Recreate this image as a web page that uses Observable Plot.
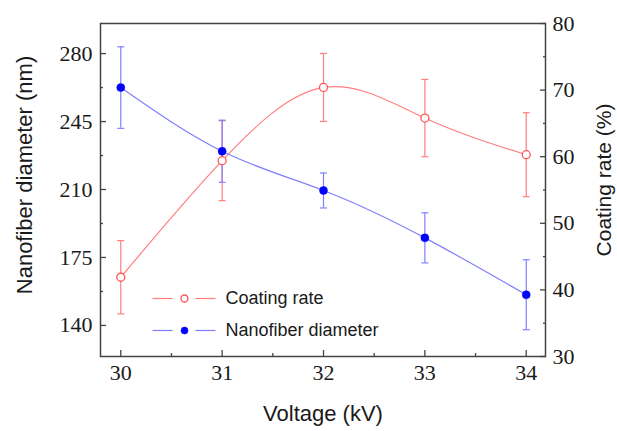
<!DOCTYPE html>
<html><head><meta charset="utf-8">
<script src="https://cdn.jsdelivr.net/npm/d3@7"></script>
<script src="https://cdn.jsdelivr.net/npm/@observablehq/plot@0.6"></script>
<style>body{margin:0;background:#fff}</style>
</head><body><div id="chart"></div>
<script>
// ---- data ----
const voltage = [30, 31, 32, 33, 34];
const diameter = [262.5, 229.7, 209.5, 185.1, 155.8];
const diameterErr = [21, 16, 9, 12.9, 18];
const coating = [41.9, 59.4, 70.4, 65.8, 60.3];
const coatingErr = [5.5, 6, 5.1, 5.8, 6.3];
const xTicks = [30, 31, 32, 33, 34];
const xMinor = [30.5, 31.5, 32.5, 33.5];
const leftTicks = [140, 175, 210, 245, 280];
const leftMinor = [157.5, 192.5, 227.5, 262.5];
const rightTicks = [30, 40, 50, 60, 70, 80];
const rightMinor = [35, 45, 55, 65, 75];
const legendLabels = ["Coating rate", "Nanofiber diameter"];

const leftDomain = [124, 295.5];
const rightDomain = [30, 80];
const k = (leftDomain[1] - leftDomain[0]) / (rightDomain[1] - rightDomain[0]);
const toLeft = c => leftDomain[0] + (c - rightDomain[0]) * k;
const fromLeft = v => rightDomain[0] + (v - leftDomain[0]) / k;

const dia = voltage.map((v, i) => ({v, y: diameter[i], lo: diameter[i] - diameterErr[i], hi: diameter[i] + diameterErr[i]}));
const coat = voltage.map((v, i) => ({v, y: toLeft(coating[i]), lo: toLeft(coating[i] - coatingErr[i]), hi: toLeft(coating[i] + coatingErr[i])}));

// horizontal line symbol (error bar caps, legend segments)
const hline = {draw(ctx, size) { const w = Math.sqrt(size / Math.PI); ctx.moveTo(-w, 0); ctx.lineTo(w, 0); }};

const RED = "#ff7f7f", RED_D = "#ff5555", BLUE = "#8080ff", BLUE_D = "#0000ff";
const AX = "#444", TXT = "#1a1a1a";
const serif = "'Liberation Serif', 'Times New Roman', serif";
const sans = "'Liberation Sans', Arial, sans-serif";
const blank = () => "";

const plot = Plot.plot({
  width: 617, height: 431,
  marginLeft: 100, marginRight: 72, marginTop: 23, marginBottom: 75,
  style: {background: "#fff", color: TXT},
  x: {domain: [29.8, 34.19], axis: null},
  y: {domain: leftDomain, axis: null},
  marks: [
    // lines
    Plot.line(coat, {x: "v", y: "y", curve: "natural", stroke: RED, strokeWidth: 1.2}),
    Plot.line(dia, {x: "v", y: "y", curve: "natural", stroke: BLUE, strokeWidth: 1.2}),
    // error bars
    Plot.ruleX(coat, {x: "v", y1: "lo", y2: "hi", stroke: RED, strokeWidth: 1.2}),
    Plot.dot(coat, {x: "v", y: "lo", symbol: hline, r: 3.5, stroke: RED, strokeWidth: 1.2}),
    Plot.dot(coat, {x: "v", y: "hi", symbol: hline, r: 3.5, stroke: RED, strokeWidth: 1.2}),
    Plot.ruleX(dia, {x: "v", y1: "lo", y2: "hi", stroke: BLUE, strokeWidth: 1.2}),
    Plot.dot(dia, {x: "v", y: "lo", symbol: hline, r: 3.5, stroke: BLUE, strokeWidth: 1.2}),
    Plot.dot(dia, {x: "v", y: "hi", symbol: hline, r: 3.5, stroke: BLUE, strokeWidth: 1.2}),
    // markers
    Plot.dot(coat, {x: "v", y: "y", r: 4, stroke: RED_D, fill: "white", strokeWidth: 1.3}),
    Plot.dot(dia, {x: "v", y: "y", r: 4, fill: BLUE_D, stroke: BLUE_D, strokeWidth: 0.5}),
    // frame
    Plot.frame({stroke: AX, strokeWidth: 1.5}),
    // inward ticks
    Plot.axisX(xTicks, {anchor: "bottom", tickSize: 6, dy: -6, stroke: AX, strokeWidth: 1.3, tickFormat: blank, label: null}),
    Plot.axisX(xMinor, {anchor: "bottom", tickSize: 3, dy: -3, stroke: AX, strokeWidth: 1.3, tickFormat: blank, label: null}),
    Plot.axisY(leftTicks, {anchor: "left", tickSize: 6, dx: 6, stroke: AX, strokeWidth: 1.3, tickFormat: blank, label: null}),
    Plot.axisY(leftMinor, {anchor: "left", tickSize: 3, dx: 3, stroke: AX, strokeWidth: 1.3, tickFormat: blank, label: null}),
    Plot.axisY(rightTicks.map(toLeft), {anchor: "right", tickSize: 6, dx: -6, stroke: AX, strokeWidth: 1.3, tickFormat: blank, label: null}),
    Plot.axisY(rightMinor.map(toLeft), {anchor: "right", tickSize: 3, dx: -3, stroke: AX, strokeWidth: 1.3, tickFormat: blank, label: null}),
    // tick labels
    Plot.axisX(xTicks, {anchor: "bottom", tickSize: 0, tickPadding: 8, fontSize: 22, fontFamily: serif, color: TXT, label: null}),
    Plot.axisY(leftTicks, {anchor: "left", tickSize: 0, tickPadding: 8, fontSize: 22, fontFamily: serif, color: TXT, label: null}),
    Plot.axisY(rightTicks.map(toLeft), {anchor: "right", tickSize: 0, tickPadding: 7, fontSize: 22, fontFamily: serif, color: TXT, label: null, tickFormat: d => Math.round(fromLeft(d))}),
    // axis titles
    Plot.text(["Voltage (kV)"], {text: d => d, frameAnchor: "bottom", textAnchor: "middle", lineAnchor: "middle", dy: 57, fontSize: 22, fontFamily: sans, fill: TXT}),
    Plot.text(["Nanofiber diameter (nm)"], {text: d => d, frameAnchor: "left", textAnchor: "middle", lineAnchor: "middle", rotate: -90, dx: -76, dy: -15, fontSize: 22, fontFamily: sans, fill: TXT}),
    Plot.text(["Coating rate (%)"], {text: d => d, frameAnchor: "right", textAnchor: "middle", lineAnchor: "middle", rotate: -90, dx: 59, dy: -10, fontSize: 21, fontFamily: sans, fill: TXT}),
    // legend
    Plot.dot([0], {frameAnchor: "bottom-left", dx: 62, dy: -58, symbol: hline, r: 10, stroke: RED, strokeWidth: 1.2}),
    Plot.dot([0], {frameAnchor: "bottom-left", dx: 105, dy: -58, symbol: hline, r: 10, stroke: RED, strokeWidth: 1.2}),
    Plot.dot([0], {frameAnchor: "bottom-left", dx: 84, dy: -58, r: 3.5, stroke: RED_D, fill: "white", strokeWidth: 1.3}),
    Plot.text([legendLabels[0]], {text: d => d, frameAnchor: "bottom-left", dx: 125, dy: -58, textAnchor: "start", lineAnchor: "middle", fontSize: 18, fontFamily: sans, fill: TXT}),
    Plot.dot([0], {frameAnchor: "bottom-left", dx: 62, dy: -26, symbol: hline, r: 10, stroke: BLUE, strokeWidth: 1.2}),
    Plot.dot([0], {frameAnchor: "bottom-left", dx: 105, dy: -26, symbol: hline, r: 10, stroke: BLUE, strokeWidth: 1.2}),
    Plot.dot([0], {frameAnchor: "bottom-left", dx: 84, dy: -26, r: 3.5, fill: BLUE_D, stroke: BLUE_D, strokeWidth: 0.5}),
    Plot.text([legendLabels[1]], {text: d => d, frameAnchor: "bottom-left", dx: 125, dy: -26, textAnchor: "start", lineAnchor: "middle", fontSize: 18, fontFamily: sans, fill: TXT})
  ]
});
document.getElementById("chart").appendChild(plot);
</script>
</body></html>
